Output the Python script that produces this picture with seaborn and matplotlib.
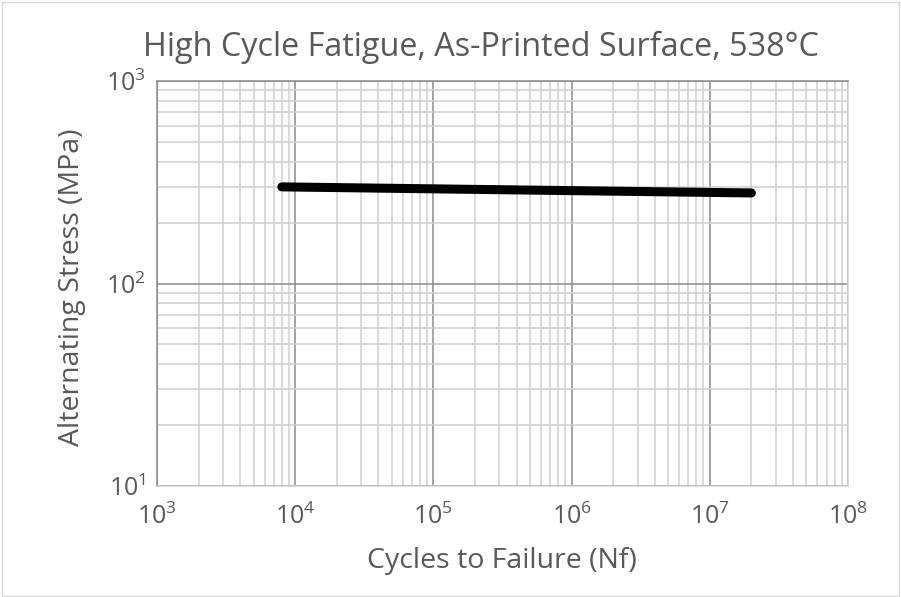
import matplotlib
matplotlib.use("Agg")
import matplotlib.pyplot as plt
import seaborn as sns
import pandas as pd
from matplotlib.ticker import LogLocator, FixedLocator, NullFormatter
from matplotlib.patches import Rectangle

cycles = [8000, 2.0e7]
stress = [300, 280]
x_ticks = [1e3, 1e4, 1e5, 1e6, 1e7, 1e8]
x_labels = ["$10^{3}$", "$10^{4}$", "$10^{5}$", "$10^{6}$", "$10^{7}$", "$10^{8}$"]
y_ticks = [10, 100, 1000]
y_labels = ["$10^{1}$", "$10^{2}$", "$10^{3}$"]

sns.set_theme(style="white")
FONT = 'Open Sans'
plt.rcParams['font.family'] = [FONT, 'DejaVu Sans']
plt.rcParams['mathtext.fontset'] = 'custom'
plt.rcParams['mathtext.rm'] = FONT
plt.rcParams['mathtext.it'] = FONT + ':italic'

TXT = "#595959"
df = pd.DataFrame({"Cycles": cycles, "Stress": stress})

fig = plt.figure(figsize=(9.01, 5.97), dpi=100)
ax = fig.add_axes([157/901, 1-486/597, (848-157)/901, (486-81)/597])

sns.lineplot(data=df, x="Cycles", y="Stress", ax=ax, color="black",
             linewidth=6.5, solid_capstyle="round", legend=False)

ax.set_xscale("log")
ax.set_yscale("log")
ax.set_xlim(1e3, 1e8)
ax.set_ylim(10, 1000)
ax.set_xlabel("")
ax.set_ylabel("")

ax.xaxis.set_major_locator(FixedLocator(x_ticks))
ax.yaxis.set_major_locator(FixedLocator(y_ticks))
ax.set_xticklabels(x_labels)
ax.set_yticklabels(y_labels)
ax.xaxis.set_minor_locator(LogLocator(base=10, subs=range(2, 10), numticks=20))
ax.yaxis.set_minor_locator(LogLocator(base=10, subs=range(2, 10), numticks=20))
ax.xaxis.set_minor_formatter(NullFormatter())
ax.yaxis.set_minor_formatter(NullFormatter())

ax.grid(True, which="minor", color="#d0d0d0", linewidth=1.1)
ax.grid(True, which="major", color="#8a8a8a", linewidth=1.1)
ax.set_axisbelow(True)
ax.tick_params(which="both", length=0, labelsize=18, labelcolor=TXT)
ax.tick_params(axis="x", pad=13)
ax.tick_params(axis="y", pad=8)

for side in ["top", "left"]:
    ax.spines[side].set_color("#8a8a8a")
for side in ["bottom", "right"]:
    ax.spines[side].set_color("#d0d0d0")
for s in ax.spines.values():
    s.set_linewidth(1.1)

fig.text(481/901, 1-56/597, "High Cycle Fatigue, As-Printed Surface, 538°C",
         fontsize=23.3, color=TXT, ha="center", va="baseline")
fig.text(502/901, 1-568/597, "Cycles to Failure (Nf)", fontsize=20.5, color=TXT,
         ha="center", va="baseline")
fig.text(72/901, 1-287/597, "Alternating Stress (MPa)", fontsize=20.5, color=TXT,
         ha="center", va="center", rotation=90)

fig.patches.append(Rectangle((0.002, 0.002), 0.996, 0.994, transform=fig.transFigure,
                             fill=False, edgecolor="#d9d9d9", linewidth=1))

fig.savefig("out.png", dpi=100)
